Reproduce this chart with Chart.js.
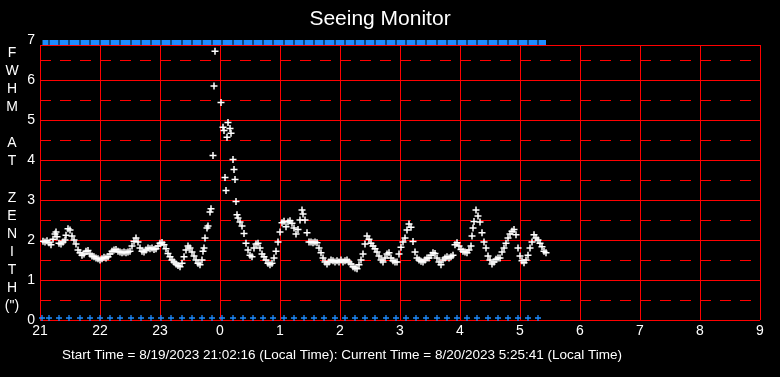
<!DOCTYPE html>
<html><head><meta charset="utf-8">
<script src="https://cdn.jsdelivr.net/npm/chart.js@4.4.1/dist/chart.umd.min.js"></script>
<style>html,body{margin:0;padding:0;background:#000;}canvas{display:block;}</style>
</head><body>
<canvas id="c" width="780" height="377"></canvas>
<script>
// ---- text ----
const titleText = 'Seeing Monitor';
const yAxisLetters = ['F','W','H','M','','A','T','','Z','E','N','I','T','H','(")'];
const footerText = 'Start Time = 8/19/2023 21:02:16 (Local Time): Current Time = 8/20/2023 5:25:41 (Local Time)';

// ---- axes (x in minutes after 21:00) ----
const hourTicks  = [0, 60, 120, 180, 240, 300, 360, 420, 480, 540, 600, 660, 720];
const hourLabels = ['21','22','23','0','1','2','3','4','5','6','7','8','9'];
const yTickValues = [0,0.5,1,1.5,2,2.5,3,3.5,4,4.5,5,5.5,6,6.5,6.875,7];
const FRAME_TOP = 6.875;
const PIXEL_NUDGE = 1e-9; // keeps grid lines on whole pixel rows

// ---- seeing data: FWHM at zenith (arcsec) ----
const seeingMinutes = [
  3,5,7,9,11,13,15,16,17,19,21,23,25,26,
  28,30,32,34,36,38,40,42,44,46,48,50,52,54,56,58,60,62,64,66,68,70,72,74,76,78,80,82,84,86,88,90,92,94,96,98,
  100,102,104,106,108,110,112,114,116,118,120,122,124,126,128,130,132,134,136,138,140,142,144,146,148,150,152,154,156,158,160,162,
  163,164,165,167,168,170,171,173,174,175,181,183,184,185,186,187,188,190,191,193,194,195,196,197,
  198,200,202,204,206,208,210,212,214,216,218,220,222,224,226,228,230,232,234,236,238,240,242,244,246,248,250,252,254,256,258,260,262,
  263,
  265,267,269,271,273,275,277,279,281,283,
  285,287,289,291,293,295,297,299,301,303,
  305,307,309,311,313,315,317,319,321,323,
  325,327,329,331,333,335,337,339,341,343,
  345,347,349,351,353,355,357,359,361,363,
  365,367,369,371,373,375,377,379,381,383,
  385,387,389,391,393,395,397,399,401,403,
  405,407,409,411,413,415,417,419,421,423,
  425,427,429,
  431,432,433,434,
  436,438,440,442,444,446,448,450,452,454,
  456,458,460,462,464,466,468,470,472,474,
  476,478,480,482,484,486,488,490,492,494,
  496,498,500,502,504,506
];
const seeingFwhm = [
  1.97,1.95,1.98,1.93,1.88,2.02,2.15,2.2,2.08,1.92,1.9,1.95,2.0,2.12,
  2.28,2.25,2.1,2.0,1.9,1.75,1.68,1.62,1.65,1.72,1.74,1.65,1.6,1.58,1.55,1.53,1.5,1.53,1.57,1.55,1.58,1.65,1.72,1.75,1.76,1.72,1.7,1.68,1.7,1.68,1.7,1.72,1.85,1.97,2.05,1.95,
  1.8,1.72,1.7,1.75,1.8,1.78,1.8,1.76,1.78,1.85,1.92,1.94,1.88,1.78,1.66,1.58,1.5,1.45,1.4,1.36,1.33,1.42,1.58,1.75,1.85,1.8,1.7,1.6,1.5,1.42,1.38,1.5,
  1.72,1.8,2.05,2.3,2.35,2.7,2.78,4.11,5.85,6.72,5.44,4.82,4.74,3.56,3.24,4.57,4.94,4.79,4.67,4.01,3.76,3.51,2.96,2.63,
  2.55,2.45,2.35,2.16,1.92,1.75,1.62,1.58,1.8,1.9,1.92,1.8,1.65,1.58,1.5,1.42,1.38,1.42,1.55,1.72,1.95,2.2,2.43,2.47,2.33,2.45,2.48,2.42,2.3,2.15,2.26,2.5,2.75,
  2.65,
  2.5,2.18,1.95,1.95,1.93,1.95,1.93,1.8,1.68,1.55,
  1.45,1.4,1.45,1.5,1.48,1.45,1.48,1.45,1.5,1.45,
  1.48,1.5,1.45,1.4,1.33,1.3,1.28,1.38,1.5,1.65,
  1.9,2.1,2.02,1.92,1.85,1.78,1.7,1.6,1.5,1.45,
  1.55,1.65,1.68,1.55,1.48,1.45,1.45,1.65,1.82,1.95,
  2.05,2.25,2.4,2.32,1.96,1.7,1.55,1.5,1.47,1.45,
  1.5,1.55,1.55,1.62,1.68,1.66,1.55,1.45,1.38,1.5,
  1.55,1.58,1.55,1.58,1.62,1.88,1.93,1.85,1.76,1.72,
  1.7,1.68,1.75,
  1.85,2.1,2.3,2.46,
  2.75,2.6,2.45,2.18,1.95,1.8,1.6,1.5,1.4,1.45,
  1.52,1.55,1.55,1.7,1.8,1.92,2.05,2.15,2.22,2.26,
  2.13,1.8,1.6,1.48,1.43,1.5,1.62,1.8,1.95,2.13,
  2.05,2.0,1.92,1.83,1.72,1.68
];

// ---- sampling markers (blue) ----
const sampleMinutes = [2,9,19,29,40,50,60,70,80,91,101,111,121,131,142,152,162,172,182,193,203,213,223,233,244,254,264,274,284,295,305,315,325,335,346,356,366,376,386,397,407,417,427,437,448,458,468,478,488,498];
const sessionMinutes = [2, 506];
const TOP_LEVEL = 6.94;
const BOTTOM_LEVEL = 0.05;

const FONT = '"Liberation Sans", Arial, sans-serif';
const RED = '#ff0000';
const BLUE = '#1e8cff';

const isWhole = v => Math.abs(v - Math.round(v)) < 1e-6;
const isHalf = v => Math.abs(v * 2 - Math.round(v * 2)) < 1e-6 && !isWhole(v);

const maskPlugin = {
  id: 'topMask',
  beforeDatasetsDraw(chart) {
    const {ctx, chartArea} = chart;
    const ys = chart.scales.y;
    const t = ys.getPixelForValue(7) - 1;
    const b = Math.round(ys.getPixelForValue(FRAME_TOP));
    ctx.save();
    ctx.fillStyle = '#000';
    ctx.fillRect(chartArea.left - 1, t, chartArea.right - chartArea.left + 2, b - t);
    ctx.restore();
  }
};
const textPlugin = {
  id: 'sideText',
  afterDraw(chart) {
    const ctx = chart.ctx;
    ctx.save();
    ctx.fillStyle = '#fff';
    ctx.font = '14px ' + FONT;
    ctx.textAlign = 'center';
    ctx.textBaseline = 'middle';
    yAxisLetters.forEach((ch, i) => { if (ch) ctx.fillText(ch, 12, 53 + i * 18.1); });
    ctx.font = '13.5px ' + FONT;
    ctx.textAlign = 'left';
    ctx.fillText(footerText, 62, 355);
    ctx.restore();
  }
};

new Chart(document.getElementById('c'), {
  type: 'scatter',
  data: {
    datasets: [
      {
        data: sessionMinutes.map(m => ({x: m, y: TOP_LEVEL})),
        showLine: true, borderColor: BLUE, borderWidth: 5, pointRadius: 0, clip: false, order: 3
      },
      {
        data: sampleMinutes.map(m => ({x: m, y: TOP_LEVEL})),
        pointStyle: 'line', rotation: 90, pointRadius: 2.5, borderColor: '#000', backgroundColor: '#000',
        borderWidth: 1, clip: false, order: 2
      },
      {
        data: sampleMinutes.map(m => ({x: m, y: BOTTOM_LEVEL})),
        pointStyle: 'cross', pointRadius: 3, borderColor: BLUE, backgroundColor: BLUE, borderWidth: 1.3, clip: false, order: 1
      },
      {
        data: seeingMinutes.map((m, i) => ({x: m, y: seeingFwhm[i]})),
        pointStyle: 'cross', pointRadius: 3.5, borderColor: '#fff', backgroundColor: '#fff', borderWidth: 1.5, order: 0
      }
    ]
  },
  options: {
    responsive: false,
    animation: false,
    events: [],
    layout: {padding: {left: 0, right: 20, top: 0, bottom: 0}},
    plugins: {
      legend: {display: false},
      tooltip: {enabled: false},
      title: {
        display: true, text: titleText, color: '#fff',
        font: {family: FONT, size: 21, weight: 'normal'},
        padding: {top: 7, bottom: 7.8}
      }
    },
    scales: {
      x: {
        type: 'linear', min: 0, max: 720,
        afterBuildTicks: s => { s.ticks = hourTicks.map(v => ({value: v})); },
        afterFit: s => { s.height = 57; },
        grid: {color: RED, lineWidth: 1, drawTicks: false},
        border: {display: false},
        ticks: {
          autoSkip: false, maxRotation: 0, padding: 3, color: '#fff',
          font: {family: FONT, size: 14},
          callback: (v, i) => hourLabels[i]
        }
      },
      y: {
        type: 'linear', min: 0, max: 7,
        afterBuildTicks: s => { s.ticks = yTickValues.map(v => ({value: v - PIXEL_NUDGE})); },
        afterFit: s => { s.width = 40; },
        grid: {
          drawTicks: false, lineWidth: 1,
          color: c => (c.tick && Math.abs(c.tick.value - 7) < 1e-6) ? 'rgba(0,0,0,0)' : RED
        },
        border: {
          display: false,
          dash: c => (c.tick && isHalf(c.tick.value)) ? [11, 9] : []
        },
        ticks: {
          autoSkip: false, padding: 5, color: '#fff',
          font: {family: FONT, size: 14},
          callback: v => isWhole(v) ? String(Math.round(v)) : ''
        }
      }
    }
  },
  plugins: [maskPlugin, textPlugin]
});
</script>
</body></html>
